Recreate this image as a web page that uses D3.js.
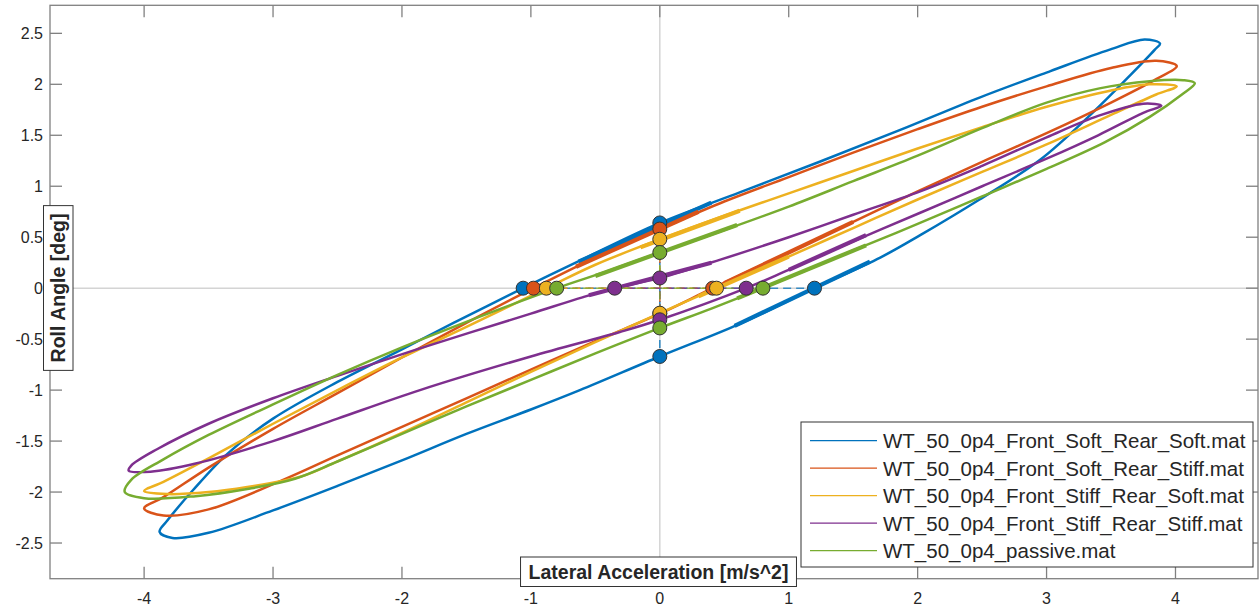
<!DOCTYPE html>
<html>
<head>
<meta charset="utf-8">
<script src="https://cdn.jsdelivr.net/npm/d3@7"></script>
<style>
  body { margin: 0; background: #fff; }
  text { font-family: Arial, "Liberation Sans", Helvetica, sans-serif; }
</style>
</head>
<body>
<svg id="chart" width="1259" height="610"></svg>
<script>
var seriesNames = [
  'WT_50_0p4_Front_Soft_Rear_Soft.mat',
  'WT_50_0p4_Front_Soft_Rear_Stiff.mat',
  'WT_50_0p4_Front_Stiff_Rear_Soft.mat',
  'WT_50_0p4_Front_Stiff_Rear_Stiff.mat',
  'WT_50_0p4_passive.mat'
];
var seriesColors = ['#0072BD', '#D95319', '#EDB120', '#7E2F8E', '#77AC30'];

var loopSoftSoft = [[3.88,2.40],[3.76,2.44],[3.49,2.34],[3.03,2.13],[2.48,1.87],[1.86,1.55],[1.24,1.24],[0.62,0.94],[0,0.64],[-0.62,0.27],[-1.06,0],[-1.60,-0.34],[-2.0,-0.60],[-2.5,-0.92],[-3.0,-1.28],[-3.35,-1.62],[-3.62,-1.98],[-3.82,-2.28],[-3.88,-2.39],[-3.78,-2.45],[-3.5,-2.40],[-3.0,-2.18],[-2.5,-1.94],[-2.0,-1.69],[-1.5,-1.43],[-1.0,-1.19],[-0.62,-1.0],[0,-0.67],[0.62,-0.35],[1.20,0],[1.71,0.30],[2.02,0.52],[2.48,0.87],[2.95,1.26],[3.34,1.70],[3.65,2.09],[3.84,2.34]];
var loopSoftStiff = [[4.01,2.18],[3.85,2.23],[3.5,2.16],[3.0,1.98],[2.5,1.78],[2.0,1.56],[1.5,1.33],[1.0,1.09],[0.5,0.85],[0,0.58],[-0.5,0.30],[-0.98,0],[-1.5,-0.34],[-2.0,-0.68],[-2.5,-1.03],[-3.0,-1.38],[-3.5,-1.76],[-3.85,-2.05],[-4.0,-2.16],[-3.85,-2.23],[-3.5,-2.17],[-2.94,-1.89],[-2.5,-1.64],[-2.0,-1.36],[-1.5,-1.08],[-1.0,-0.80],[-0.5,-0.52],[0,-0.25],[0.41,0],[1.0,0.35],[1.5,0.65],[2.0,0.95],[2.5,1.24],[3.0,1.52],[3.5,1.82],[3.85,2.05]];
var loopStiffSoft = [[4.01,1.98],[3.80,2.00],[3.5,1.94],[3.0,1.78],[2.5,1.58],[2.0,1.37],[1.5,1.15],[1.0,0.93],[0.5,0.71],[0,0.48],[-0.5,0.23],[-0.88,0],[-1.5,-0.38],[-2.0,-0.68],[-2.5,-1.0],[-3.0,-1.33],[-3.5,-1.67],[-3.85,-1.90],[-4.0,-1.99],[-3.82,-2.02],[-3.5,-2.0],[-3.2,-1.95],[-2.79,-1.85],[-2.5,-1.70],[-2.0,-1.42],[-1.5,-1.12],[-1.0,-0.82],[-0.5,-0.53],[0,-0.245],[0.44,0],[1.0,0.31],[1.5,0.59],[2.0,0.87],[2.5,1.14],[3.0,1.41],[3.5,1.70],[3.85,1.90]];
var loopStiffStiff = [[3.89,1.79],[3.75,1.81],[3.4,1.69],[3.0,1.48],[2.5,1.20],[2.02,0.95],[1.5,0.72],[1.0,0.50],[0.47,0.28],[0,0.10],[-0.35,0],[-0.6,-0.09],[-1.0,-0.25],[-1.86,-0.59],[-2.5,-0.86],[-3.0,-1.08],[-3.5,-1.33],[-3.9,-1.58],[-4.1,-1.74],[-4.12,-1.79],[-3.95,-1.80],[-3.6,-1.72],[-3.0,-1.50],[-2.5,-1.28],[-1.86,-1.0],[-1.0,-0.67],[-0.31,-0.43],[0,-0.31],[0.67,0],[1.0,0.18],[1.5,0.46],[2.02,0.74],[2.5,1.0],[3.0,1.27],[3.4,1.50],[3.75,1.72]];
var loopPassive = [[4.15,2.01],[4.06,2.04],[3.8,2.03],[3.41,1.96],[3.0,1.82],[2.5,1.57],[2.0,1.30],[1.5,1.05],[1.0,0.80],[0.5,0.57],[0,0.35],[-0.4,0.17],[-0.80,0],[-1.5,-0.33],[-2.0,-0.58],[-2.5,-0.85],[-3.0,-1.14],[-3.5,-1.44],[-3.85,-1.68],[-4.1,-1.88],[-4.15,-2.0],[-4.0,-2.06],[-3.6,-2.04],[-3.2,-1.97],[-2.83,-1.87],[-2.5,-1.70],[-2.0,-1.43],[-1.5,-1.16],[-1.0,-0.90],[-0.5,-0.64],[0,-0.39],[0.4,-0.2],[0.80,0],[1.5,0.37],[2.0,0.63],[2.5,0.90],[3.0,1.17],[3.45,1.43],[3.8,1.68],[4.05,1.90]];

// crossings of the axes: [upper, lower] roll angle at acc=0, [left, right] acc at roll=0
var yIntercepts = [[0.64,-0.67],[0.58,-0.25],[0.48,-0.245],[0.10,-0.31],[0.35,-0.39]];
var xIntercepts = [[-1.06,1.20],[-0.98,0.41],[-0.88,0.44],[-0.35,0.67],[-0.80,0.80]];

// heavier pieces along the loops near the middle
var thickSegs = [
  [[[-0.63,0.26],[0.40,0.84]], [[0.58,-0.37],[1.63,0.26]]],
  [[[-0.65,0.21],[0.30,0.75]], [[0.50,0.05],[1.50,0.65]]],
  [[[-0.15,0.40],[0.62,0.76]], [[0.30,-0.08],[1.00,0.31]]],
  [[[-0.55,-0.07],[0.40,0.25]], [[1.00,0.18],[1.60,0.52]]],
  [[[-0.50,0.12],[0.60,0.62]], [[0.60,-0.10],[1.60,0.42]]]
];

var xTicks = [-4, -3, -2, -1, 0, 1, 2, 3, 4];
var yTicks = [-2.5, -2, -1.5, -1, -0.5, 0, 0.5, 1, 1.5, 2, 2.5];

var loops = [loopSoftSoft, loopSoftStiff, loopStiffSoft, loopStiffStiff, loopPassive];

var X0 = 50, X1 = 1258, Y0 = 5.3, Y1 = 578.7;
var x = d3.scaleLinear().domain([-4.73, 4.64]).range([X0, X1]);
var y = d3.scaleLinear().domain([-2.85, 2.775]).range([Y1, Y0]);

var svg = d3.select('#chart');
var AXIS_COLOR = '#808080';
var TEXT_COLOR = '#262626';

svg.append('defs').append('clipPath').attr('id', 'plotclip')
  .append('rect').attr('x', X0).attr('y', Y0).attr('width', X1 - X0).attr('height', Y1 - Y0);

// zero lines
svg.append('line').attr('x1', x(0)).attr('x2', x(0)).attr('y1', Y0).attr('y2', Y1)
  .attr('stroke', '#d4d4d4').attr('stroke-width', 1.5);
svg.append('line').attr('x1', X0).attr('x2', X1).attr('y1', y(0)).attr('y2', y(0))
  .attr('stroke', '#d4d4d4').attr('stroke-width', 1.5);

var plot = svg.append('g').attr('clip-path', 'url(#plotclip)');

var loopLine = d3.line()
  .x(function (d) { return x(d[0]); })
  .y(function (d) { return y(d[1]); })
  .curve(d3.curveCatmullRomClosed.alpha(0.5));

var segLine = d3.line()
  .x(function (d) { return x(d[0]); })
  .y(function (d) { return y(d[1]); });

loops.forEach(function (pts, i) {
  plot.append('path')
    .attr('d', loopLine(pts))
    .attr('fill', 'none')
    .attr('stroke', seriesColors[i])
    .attr('stroke-width', 2.5)
    .attr('stroke-linejoin', 'round');
});

thickSegs.forEach(function (segs, i) {
  segs.forEach(function (s) {
    plot.append('path')
      .attr('d', segLine(s))
      .attr('fill', 'none')
      .attr('stroke', seriesColors[i])
      .attr('stroke-width', 4.2)
      .attr('stroke-linecap', 'butt');
  });
});

// dashed lines joining the crossings
seriesColors.forEach(function (c, i) {
  plot.append('line')
    .attr('x1', x(xIntercepts[i][0])).attr('x2', x(xIntercepts[i][1]))
    .attr('y1', y(0)).attr('y2', y(0))
    .attr('stroke', c).attr('stroke-width', 1.6).attr('stroke-dasharray', '8,5').attr('opacity', 0.75);
  plot.append('line')
    .attr('x1', x(0)).attr('x2', x(0))
    .attr('y1', y(yIntercepts[i][0])).attr('y2', y(yIntercepts[i][1]))
    .attr('stroke', c).attr('stroke-width', 1.6).attr('stroke-dasharray', '8,5').attr('opacity', 0.75);
});

seriesColors.forEach(function (c, i) {
  var pts = [
    [0, yIntercepts[i][0]], [0, yIntercepts[i][1]],
    [xIntercepts[i][0], 0], [xIntercepts[i][1], 0]
  ];
  plot.selectAll('.m' + i).data(pts).enter().append('circle')
    .attr('cx', function (d) { return x(d[0]); })
    .attr('cy', function (d) { return y(d[1]); })
    .attr('r', 7)
    .attr('fill', c)
    .attr('stroke', '#333')
    .attr('stroke-width', 1);
});

// box and ticks
svg.append('rect').attr('x', X0).attr('y', Y0).attr('width', X1 - X0).attr('height', Y1 - Y0)
  .attr('fill', 'none').attr('stroke', AXIS_COLOR).attr('stroke-width', 1.3);

var TICK = 12;
xTicks.forEach(function (t) {
  svg.append('line').attr('x1', x(t)).attr('x2', x(t)).attr('y1', Y1).attr('y2', Y1 - TICK)
    .attr('stroke', AXIS_COLOR).attr('stroke-width', 1.3);
  svg.append('line').attr('x1', x(t)).attr('x2', x(t)).attr('y1', Y0).attr('y2', Y0 + TICK)
    .attr('stroke', AXIS_COLOR).attr('stroke-width', 1.3);
  svg.append('text').attr('x', x(t)).attr('y', 604)
    .attr('text-anchor', 'middle').attr('font-size', 16).attr('fill', TEXT_COLOR)
    .text(t);
});
yTicks.forEach(function (t) {
  svg.append('line').attr('x1', X0).attr('x2', X0 + TICK).attr('y1', y(t)).attr('y2', y(t))
    .attr('stroke', AXIS_COLOR).attr('stroke-width', 1.3);
  svg.append('line').attr('x1', X1).attr('x2', X1 - TICK).attr('y1', y(t)).attr('y2', y(t))
    .attr('stroke', AXIS_COLOR).attr('stroke-width', 1.3);
  svg.append('text').attr('x', 43).attr('y', y(t)).attr('dy', '0.36em')
    .attr('text-anchor', 'end').attr('font-size', 16).attr('fill', TEXT_COLOR)
    .text(t);
});

// boxed axis labels
function boxedLabel(cx, cy, rot, str) {
  var g = svg.append('g').attr('transform', 'translate(' + cx + ',' + cy + ') rotate(' + rot + ')');
  var bg = g.append('rect');
  var t = g.append('text').attr('text-anchor', 'middle').attr('dy', '0.36em')
    .attr('font-size', 19.5).attr('font-weight', 'bold').attr('fill', TEXT_COLOR).text(str);
  var bb = t.node().getBBox();
  bg.attr('x', bb.x - 8).attr('y', -14.5).attr('width', bb.width + 16).attr('height', 29.5)
    .attr('fill', '#fff').attr('stroke', '#333').attr('stroke-width', 1);
}
boxedLabel(658.5, 571.5, 0, 'Lateral Acceleration [m/s^2]');
boxedLabel(58, 288, -90, 'Roll Angle [deg]');

// legend
var lg = svg.append('g');
lg.append('rect').attr('x', 801).attr('y', 422).attr('width', 452).attr('height', 145)
  .attr('fill', '#fff').attr('stroke', '#333').attr('stroke-width', 1);
seriesNames.forEach(function (name, i) {
  var ly = 440.7 + i * 27.5;
  lg.append('line').attr('x1', 810).attr('x2', 877).attr('y1', ly).attr('y2', ly)
    .attr('stroke', seriesColors[i]).attr('stroke-width', 1.2);
  lg.append('text').attr('x', 883).attr('y', ly).attr('dy', '0.36em')
    .attr('font-size', 20.5).attr('fill', TEXT_COLOR).text(name);
});
</script>
</body>
</html>
